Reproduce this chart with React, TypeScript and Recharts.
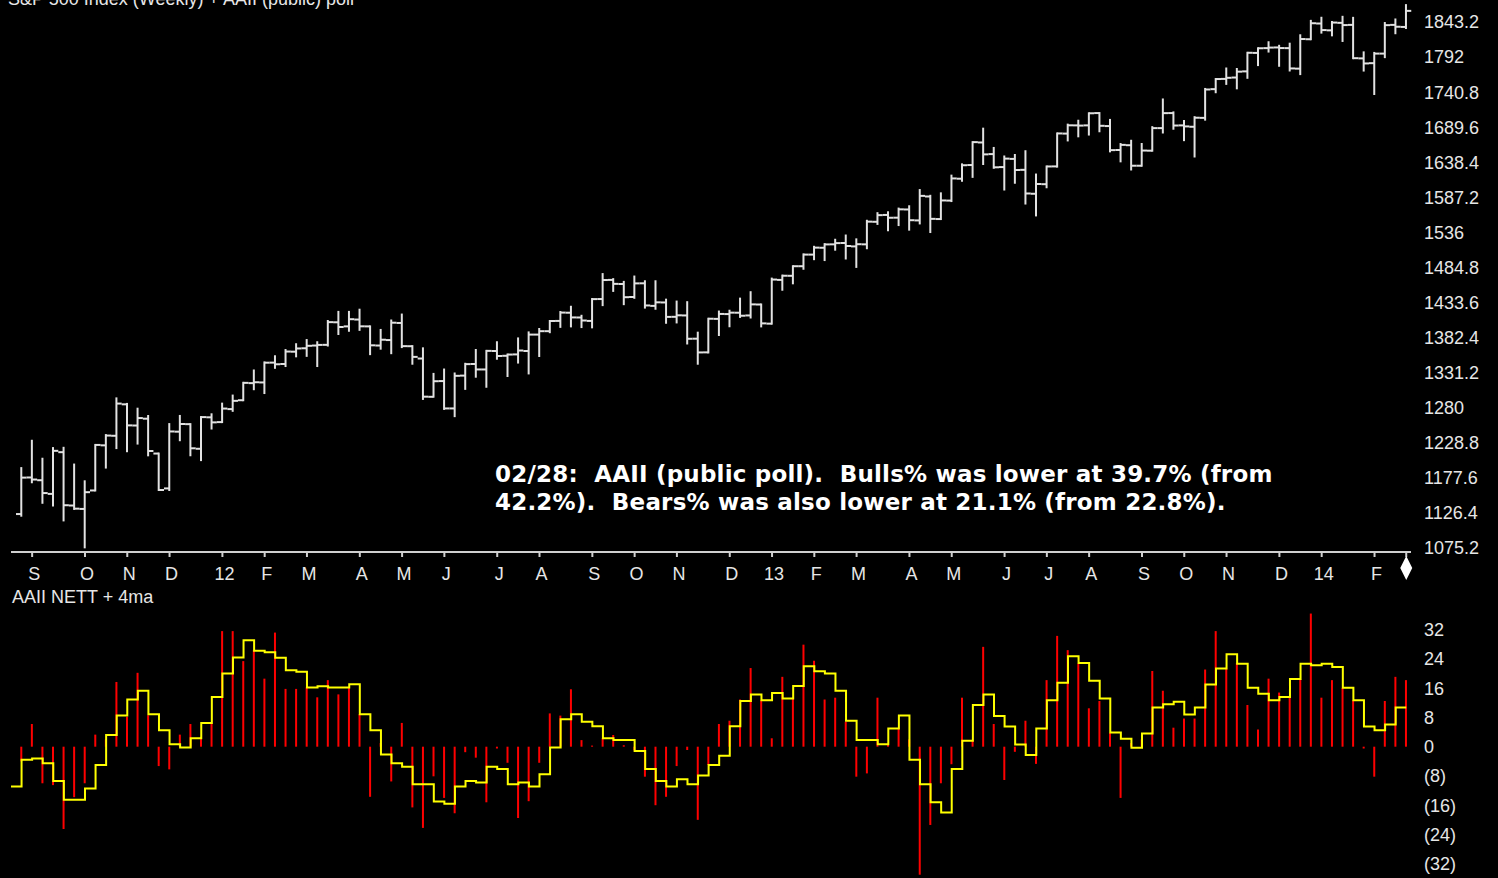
import { ComposedChart, Bar, Line, XAxis, YAxis } from 'recharts'

// S&P 500 weekly bars, week ending 2011-08-26 .. 2014-02-28 (132 weeks)
const opens = [
  1123.5, 1177, 1173, 1153, 1214, 1136, 1131, 1158, 1224, 1238, 1284, 1253, 1263, 1212, 1161, 1244, 1255, 1219, 1265,
  1258, 1277, 1290, 1315, 1316, 1345, 1343, 1361, 1366, 1370, 1371, 1404, 1398, 1408, 1398, 1370, 1378, 1403, 1369, 1351,
  1295, 1318, 1278, 1326, 1343, 1335, 1362, 1355, 1357, 1362, 1386, 1391, 1406, 1418, 1411, 1406, 1438, 1466, 1460, 1441,
  1461, 1428, 1433, 1412, 1414, 1380, 1360, 1409, 1416, 1418, 1414, 1430,
  1402, 1466, 1472, 1486, 1503, 1513, 1518, 1520, 1515, 1518, 1551, 1561, 1557, 1569, 1553, 1588, 1555, 1582, 1614, 1634,
  1667, 1650, 1631, 1643, 1627, 1592, 1606, 1632, 1680, 1692, 1692, 1710, 1691, 1656, 1663, 1633, 1655, 1688, 1710, 1692,
  1690, 1703, 1745, 1760, 1762, 1771, 1798, 1805, 1806, 1805, 1775, 1818,
  1841, 1831, 1842, 1839, 1790, 1783, 1797, 1839, 1836,
]
const highs = [
  1190.7, 1230.7, 1204.4, 1220, 1220.4, 1195.9, 1171.4, 1224.6, 1239, 1292.7, 1284.6, 1277.6, 1266.9, 1212, 1255.1, 1267,
  1255, 1265.4, 1269.4,
  1285, 1296.8, 1315.5, 1333.5, 1345.3, 1354.3, 1363.4, 1371.9, 1378, 1374.8, 1405.9, 1419.2, 1419.2, 1422.4, 1398, 1392.8,
  1406.6, 1415.3, 1369.1, 1365.9, 1328.5, 1334.9, 1329.1, 1343.3, 1363.5, 1362.2, 1374.8, 1356.8, 1380.4, 1389.2, 1394.2,
  1405.9, 1419, 1426.7, 1413.5, 1438, 1474.5, 1467.1, 1463.1, 1470.9, 1464, 1464, 1437.1, 1434.3, 1433.4, 1388.8, 1409.2,
  1419.7, 1420.9, 1438.6, 1448, 1430,
  1467.9, 1472.3, 1486, 1503.3, 1514.4, 1518.3, 1524.7, 1530.9, 1525.3, 1552.5, 1563.6, 1564.9, 1570.3, 1573.7, 1597.4,
  1589, 1592.6, 1618.5, 1635, 1667.5, 1687.2, 1659, 1646.5, 1648.7, 1654.2, 1620.1, 1631.9, 1680.2, 1693.1, 1698.8, 1709.7,
  1710, 1700, 1664.7, 1669.5, 1664.8, 1689.4, 1729.9, 1711, 1698.4, 1704, 1745.3, 1759.8, 1775.2, 1774.5, 1798.2, 1804.8,
  1813.6, 1808.4, 1811.5, 1823.8, 1844.9,
  1849.4, 1843.2, 1850.8, 1849.3, 1798.8, 1798, 1841.7, 1846.9, 1867.9,
]
const lows = [
  1121.1, 1170, 1140, 1136, 1114.2, 1131, 1074.8, 1158, 1191.5, 1220, 1215.4, 1226.6, 1209.4, 1158.7, 1158.7, 1231.5,
  1209.5, 1202.4, 1248.6,
  1258, 1274.5, 1290, 1306.1, 1300.5, 1337.4, 1340, 1354.2, 1354.9, 1340, 1370, 1386.9, 1391.6, 1392.9, 1357.4, 1365.4,
  1358.8, 1367.7, 1343.4, 1291.9, 1295.2, 1277.3, 1266.7, 1306.6, 1324.4, 1309.7, 1350.7, 1325.4, 1345.1, 1329.2, 1354.7,
  1389.5, 1397.3, 1398, 1397, 1396.6, 1429.1, 1449.9, 1430.5, 1439.8, 1425.5, 1423.8, 1403.3, 1403.8, 1373, 1343.4, 1359.9,
  1385.4, 1398.2, 1411.9, 1411, 1398,
  1402, 1451.6, 1461, 1482.3, 1496.3, 1495, 1510.2, 1497.3, 1485, 1512.3, 1547.9, 1538.6, 1546.2, 1539.5, 1548.6, 1536,
  1555, 1581.3, 1611, 1616.7, 1635.5, 1630, 1598.2, 1608.1, 1577.7, 1560.3, 1601.5, 1631.7, 1670, 1676, 1678.6, 1683.4,
  1654, 1639.4, 1627.5, 1633, 1655, 1681.6, 1687.1, 1670.4, 1646.5, 1700.4, 1740.5, 1752.7, 1746.2, 1761.6, 1780.2, 1800,
  1779.2, 1772.3, 1767, 1818,
  1827.7, 1823.7, 1815.5, 1790.3, 1772.2, 1737.9, 1791.8, 1826.8, 1834.4,
]
const closes = [
  1176.8, 1174.0, 1154.2, 1216.0, 1136.4, 1131.4, 1155.5, 1224.6, 1238.3, 1285.1, 1253.2, 1263.9, 1215.7, 1158.7, 1244.3,
  1255.2, 1219.7, 1265.3, 1257.6,
  1277.8, 1289.1, 1315.4, 1316.3, 1344.9, 1342.6, 1361.2, 1365.7, 1369.6, 1370.9, 1404.2, 1397.1, 1408.5, 1398.1, 1370.3,
  1378.5, 1403.4, 1369.1, 1353.4, 1295.2, 1317.8, 1278.0, 1325.7, 1342.8, 1335.0, 1362.2, 1354.7, 1356.8, 1362.7, 1386.0,
  1391.0, 1405.9, 1418.2, 1411.1, 1406.6, 1437.9, 1465.8, 1460.2, 1440.7, 1460.9, 1428.6, 1433.2, 1411.9, 1414.2, 1379.9,
  1359.9, 1409.2, 1416.2, 1418.1, 1413.6, 1430.2, 1402.4,
  1466.5, 1472.1, 1486.0, 1503.0, 1513.2, 1517.9, 1519.8, 1515.6, 1518.2, 1551.2, 1560.7, 1556.9, 1569.2, 1553.3, 1588.9,
  1555.3, 1582.2, 1614.4, 1633.7, 1667.5, 1649.6, 1630.7, 1643.4, 1626.7, 1592.4, 1606.3, 1631.9, 1680.2, 1692.1, 1691.7,
  1709.7, 1691.4, 1655.8, 1663.5, 1633.0, 1655.2, 1688.0, 1709.9, 1691.8, 1690.5, 1703.2, 1744.5, 1759.8, 1761.6, 1770.6,
  1798.2, 1804.8, 1805.8, 1805.1, 1775.3, 1818.3, 1841.4,
  1831.4, 1842.4, 1838.7, 1790.3, 1782.6, 1797.0, 1838.6, 1836.3, 1859.5,
]

// AAII bulls% - bears%, same weeks
const nett = [
  -4, 6.2, -10, -10.5, -22.5, -13.8, -10, 3.3, 2, 17.7,
  8.2, 20.2, 8.6, -5.3, -6.2, 3.3, 6.2, 2.7, 6.4, 31.6,
  31.6, 23.4, 26.4, 18.6, 31.2, 15.8, 15.8, 16.2, 13.5, 18.2,
  14.3, 16.2, 8.9, -13.7, 1, -9.5, 6.5, -16.6, -22.2, -8.1,
  -14, -18.2, -1.5, -3, -15.2, -0.5, -4.4, -19.5, -14.9, -4.4,
  9.1, 8.5, 15.7, 1.8, 0.3, 2.3, 3.2, 0.4, -1, -8.2,
  -16, -13.7, -5.3, -0.9, -20, -5, 6.2, 7.1, 12.9, 21.5,
  12.7, 2.3, 19.1, 13.2, 27.9, 23.5, 12.9, 13.4, 6.8, -8.2,
  -7.3, 13.4, 0.7, 5, 2, -35, -21.4, -10, -4.8, 13.4,
  1.8, 27.3, 6.2, -9.1, -1.4, 7.1, -4.7, 18.2, 30.3, 26.4,
  22.7, 10.5, 12.5, 3.8, -14, 1, 2, 20.7, 15.3, 5.2,
  7.7, 7.7, 21.1, 31.6, 21.4, 22.9, 11.4, 4.7, 18.6, 14.8,
  13.6, 18.5, 36.4, 13.4, 18.2, 16.1, 12.7, -0.5, -8.2, 12.5,
  19.1, 18.2,
]

// 4-week average as plotted (first value is the week before the window)
const ma4 = [
  -10.9,
  -3.6, -3.2, -4.5, -9.4, -14.5, -14.5, -11.4, -5.0, 3.2, 8.5,
  12.9, 15.3, 8.9, 4.5, 0.7, -0.2, 2.3, 6.5, 13.6, 20.0,
  24.4, 29.1, 26.2, 25.8, 24.3, 20.9, 20.5, 16.2, 16.5, 16.2,
  16.2, 17.1, 8.9, 4.5, -2.1, -4.5, -5.5, -10.3, -10.3, -15.0,
  -15.6, -10.9, -9.4, -9.8, -5.5, -6.1, -10.3, -9.8, -10.9, -7.5,
  -0.2, 7.5, 8.9, 6.8, 5.6, 2.3, 1.8, 1.8, -1.2, -6.1,
  -9.4, -10.9, -8.9, -10.3, -7.9, -5.0, -2.5, 5.6, 12.5, 14.3,
  12.7, 14.7, 13.2, 16.6, 22.0, 20.6, 20.0, 15.3, 7.1, 1.8,
  1.8, 0.7, 5.0, 8.5, -3.6, -10.3, -15.2, -18.0, -6.1, 1.6,
  11.4, 14.3, 8.4, 5.5, 0.6, -2.3, 5.0, 12.7, 17.5, 24.7,
  22.9, 18.0, 13.2, 3.9, 2.2, -0.3, 3.6, 10.7, 11.6, 12.3,
  8.8, 10.7, 17.0, 21.4, 25.3, 22.7, 16.1, 14.5, 12.7, 13.6,
  18.5, 22.7, 22.3, 22.7, 21.8, 16.1, 12.7, 5.5, 4.5, 6.1,
  10.7, 10.7,
]

// first week of each month
const monthTicks = [2, 7, 11, 15, 20, 24, 28, 33, 37, 41, 46, 50, 55, 59, 63, 68, 72, 76, 80, 85, 89, 94, 98, 102, 107, 111, 115, 120, 124, 129]
const monthLabels = ['S', 'O', 'N', 'D', '12', 'F', 'M', 'A', 'M', 'J', 'J', 'A', 'S', 'O', 'N', 'D', '13', 'F', 'M', 'A', 'M', 'J', 'J', 'A', 'S', 'O', 'N', 'D', '14', 'F']
const lastWeek = 132

const priceTicks = [1075.2, 1126.4, 1177.6, 1228.8, 1280, 1331.2, 1382.4, 1433.6, 1484.8, 1536, 1587.2, 1638.4, 1689.6, 1740.8, 1792, 1843.2]
const nettTicks = [-32, -24, -16, -8, 0, 8, 16, 24, 32]

const priceData = opens.map((o, i) => ({ week: i + 1, open: o, high: highs[i], low: lows[i], close: closes[i] }))
const sentData = ma4.map((m, i) => ({ week: i, ma: m, nett: i === 0 ? null : nett[i - 1] }))

const AXIS = '#cfcfcf'
const TEXT = '#e6e6e6'
const FONT = '"Liberation Sans", Arial, sans-serif'
const X_DOMAIN: [number, number] = [0, 132.45]

const OhlcShape = (props: any) => {
  const { x, y, width, height, payload } = props
  if (x == null || !payload) return null
  const top = Math.min(y, y + height)
  const bot = Math.max(y, y + height)
  const span = payload.high - payload.low || 1
  const pos = (v: number) => top + ((payload.high - v) / span) * (bot - top)
  const cx = x + width / 2
  const yo = pos(payload.open)
  const yc = pos(payload.close)
  return (
    <g stroke="#e2e2e2" strokeWidth={2}>
      <line x1={cx} x2={cx} y1={top - 1} y2={bot + 1} />
      <line x1={cx - 5.3} x2={cx} y1={yo} y2={yo} />
      <line x1={cx} x2={cx + 5.3} y1={yc} y2={yc} />
    </g>
  )
}

const MonthTick = (props: any) => {
  const { x, y, payload } = props
  if (payload.value === lastWeek) {
    const cy = y + 9
    return <polygon points={`${x},${cy - 12} ${x + 6},${cy} ${x},${cy + 12} ${x - 6},${cy}`} fill="#ffffff" />
  }
  const i = monthTicks.indexOf(payload.value)
  return (
    <text x={x + 2} y={y} dy={21} textAnchor="middle" fill={TEXT} fontSize={18} fontFamily={FONT}>
      {monthLabels[i]}
    </text>
  )
}

const ValueTick = (props: any) => {
  const { x, y, payload, paren } = props
  const v = payload.value
  const label = paren && v < 0 ? `(${-v})` : `${v}`
  return (
    <text x={x} y={y} dy="0.36em" textAnchor="start" fill={TEXT} fontSize={18} fontFamily={FONT}>
      {label}
    </text>
  )
}

export default function App() {
  return (
    <div style={{ position: 'absolute', left: 0, top: 0, width: 1498, height: 878, background: '#000', overflow: 'hidden' }}>
      <div style={{ position: 'absolute', left: 8, top: -11, color: TEXT, fontFamily: FONT, fontSize: 18, whiteSpace: 'pre' }}>
        S&amp;P 500 Index (Weekly) + AAII (public) poll
      </div>

      <div style={{ position: 'absolute', left: 0, top: 0 }}>
        <ComposedChart width={1498} height={600} data={priceData} margin={{ top: 0, right: 0, bottom: 0, left: 11 }}>
          <XAxis
            dataKey="week"
            type="number"
            domain={X_DOMAIN}
            ticks={[...monthTicks, lastWeek]}
            interval={0}
            height={48}
            tickSize={5}
            tickLine={{ stroke: AXIS, strokeWidth: 2 }}
            axisLine={{ stroke: AXIS, strokeWidth: 2 }}
            tick={(p: any) => <MonthTick {...p} />}
          />
          <YAxis
            orientation="right"
            width={87}
            domain={[1068, 1875.4]}
            ticks={priceTicks}
            interval={0}
            axisLine={false}
            tickLine={false}
            tickSize={0}
            tickMargin={13}
            tick={(p: any) => <ValueTick {...p} />}
          />
          <Bar dataKey={(d: any) => [d.low, d.high]} barSize={10} shape={(p: any) => <OhlcShape {...p} />} isAnimationActive={false} />
        </ComposedChart>
      </div>

      <div
        style={{
          position: 'absolute',
          left: 495,
          top: 460,
          color: '#ffffff',
          fontFamily: '"DejaVu Sans", Verdana, sans-serif',
          fontWeight: 'bold',
          fontSize: 23,
          letterSpacing: 0.2,
          lineHeight: '28px',
          whiteSpace: 'pre',
        }}
      >
        {'02/28:  AAII (public poll).  Bulls% was lower at 39.7% (from\n42.2%).  Bears% was also lower at 21.1% (from 22.8%).'}
      </div>

      <div style={{ position: 'absolute', left: 12, top: 587, color: TEXT, fontFamily: FONT, fontSize: 18, whiteSpace: 'pre' }}>
        AAII NETT + 4ma
      </div>

      <div style={{ position: 'absolute', left: 0, top: 600 }}>
        <ComposedChart width={1498} height={278} data={sentData} margin={{ top: 11, right: 0, bottom: 0, left: 11 }}>
          <XAxis dataKey="week" type="number" domain={X_DOMAIN} hide />
          <YAxis
            orientation="right"
            width={87}
            domain={[-35.9, 37.1]}
            ticks={nettTicks}
            interval={0}
            axisLine={false}
            tickLine={false}
            tickSize={0}
            tickMargin={13}
            tick={(p: any) => <ValueTick {...p} paren />}
          />
          <Bar dataKey="nett" barSize={2} fill="#ff0000" isAnimationActive={false} />
          <Line dataKey="ma" type="stepAfter" stroke="#ffff00" strokeWidth={2} dot={false} isAnimationActive={false} />
        </ComposedChart>
      </div>
    </div>
  )
}
